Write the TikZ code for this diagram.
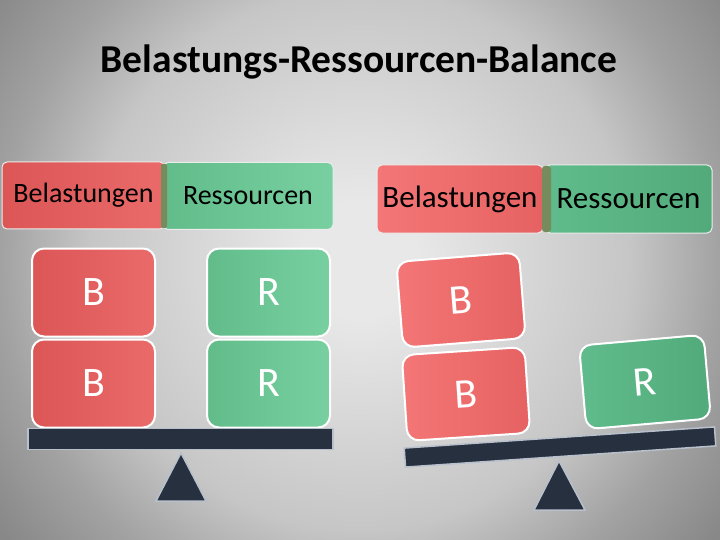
\documentclass[tikz,border=0pt]{standalone}
\usepackage{fontspec}
\setmainfont{Carlito}
\definecolor{bgLight}{RGB}{232,232,232}
\definecolor{bgMid}{RGB}{198,198,198}
\definecolor{bgEdge}{RGB}{162,162,162}
\definecolor{bgDark}{RGB}{136,136,136}
\definecolor{redA}{RGB}{220,86,86}
\definecolor{redB}{RGB}{234,106,106}
\definecolor{redC}{RGB}{244,118,118}
\definecolor{redD}{RGB}{230,98,98}
\definecolor{greenA}{RGB}{98,188,138}
\definecolor{greenB}{RGB}{120,208,160}
\definecolor{greenC}{RGB}{96,188,140}
\definecolor{greenD}{RGB}{82,170,122}
\definecolor{sepCol}{RGB}{118,140,92}
\definecolor{beamCol}{RGB}{38,48,62}
\definecolor{beamEdge}{RGB}{184,192,204}
\pgfdeclareradialshading{slidebg}{\pgfpoint{0bp}{0bp}}{color(0bp)=(bgLight); color(4bp)=(bgLight); color(18.75bp)=(bgMid); color(25bp)=(bgEdge); color(31.25bp)=(bgDark); color(50bp)=(bgDark)}
\tikzset{
  labelbox/.style={rounded corners=5pt,draw=white!85!gray,line width=1pt,
    inner sep=0pt,font=\fontsize{28}{30}\selectfont},
  block/.style={rounded corners=12pt,draw=white,line width=2pt,inner sep=0pt,
    minimum width=123pt,minimum height=88pt,text=white,
    font=\fontsize{42}{44}\selectfont},
  beam/.style={draw=beamEdge,line width=1.5pt,fill=beamCol,inner sep=0pt},
  fulcrum/.style={draw=beamEdge,line width=1.5pt,fill=beamCol,line join=miter}
}
\begin{document}
\begin{tikzpicture}[x=1pt,y=-1pt]
  % background
  \begin{scope}
    \clip (0,0) rectangle (720,540);
    \shade[shading=slidebg] (0,-100) rectangle (720,620);
  \end{scope}
  \useasboundingbox (0,0) rectangle (720,540);
  \node (title) at (359,62) {\fontsize{39.5}{41}\selectfont\bfseries Belastungs-Ressourcen-Balance};

  % left balance: even
  \node[labelbox,left color=redA,right color=redB,minimum width=163pt,minimum height=67pt] (lBel) at (83.5,195.5) {Belastungen};
  \node[labelbox,left color=greenA,right color=greenB,minimum width=170pt,minimum height=67pt] (lRes) at (248,196) {Ressourcen};
  \fill[sepCol,rounded corners=2pt] (161,164) rectangle (167,228);
  \node[block,left color=redA,right color=redB] (lB1) at (93.5,292.5) {B};
  \node[block,left color=redA,right color=redB] (lB2) at (93.5,383.5) {B};
  \node[block,left color=greenA,right color=greenB] (lR1) at (268.5,292.5) {R};
  \node[block,left color=greenA,right color=greenB] (lR2) at (268.5,383.5) {R};
  \node[beam,minimum width=305pt,minimum height=21pt] (lBeam) at (180.5,439) {};
  \draw[fulcrum] (181,453) -- (206,501) -- (156,501) -- cycle;

  % right balance: tilted
  \node[labelbox,left color=redC,right color=redD,minimum width=166pt,minimum height=68pt,font=\fontsize{31}{33}\selectfont] (rBel) at (460,199) {Belastungen};
  \node[labelbox,left color=greenC,right color=greenD,minimum width=167pt,minimum height=68pt,font=\fontsize{31}{33}\selectfont] (rRes) at (628.5,199) {Ressourcen};
  \fill[sepCol,rounded corners=3pt] (542,166) rectangle (551,232);
  \node[block,left color=redC,right color=redD,rotate=4.5,minimum height=86pt] (rB1) at (461,300) {B};
  \node[block,left color=redC,right color=redD,rotate=3.8,minimum height=86pt] (rB2) at (466,394) {B};
  \node[block,left color=greenC,right color=greenD,rotate=5,minimum width=125pt,minimum height=84pt] (rR1) at (645,382) {R};
  \node[beam,rotate=3.9,minimum width=311pt,minimum height=19pt] (rBeam) at (560,447) {};
  \draw[fulcrum] (559,461) -- (585,510) -- (534,510) -- cycle;
\end{tikzpicture}
\end{document}
